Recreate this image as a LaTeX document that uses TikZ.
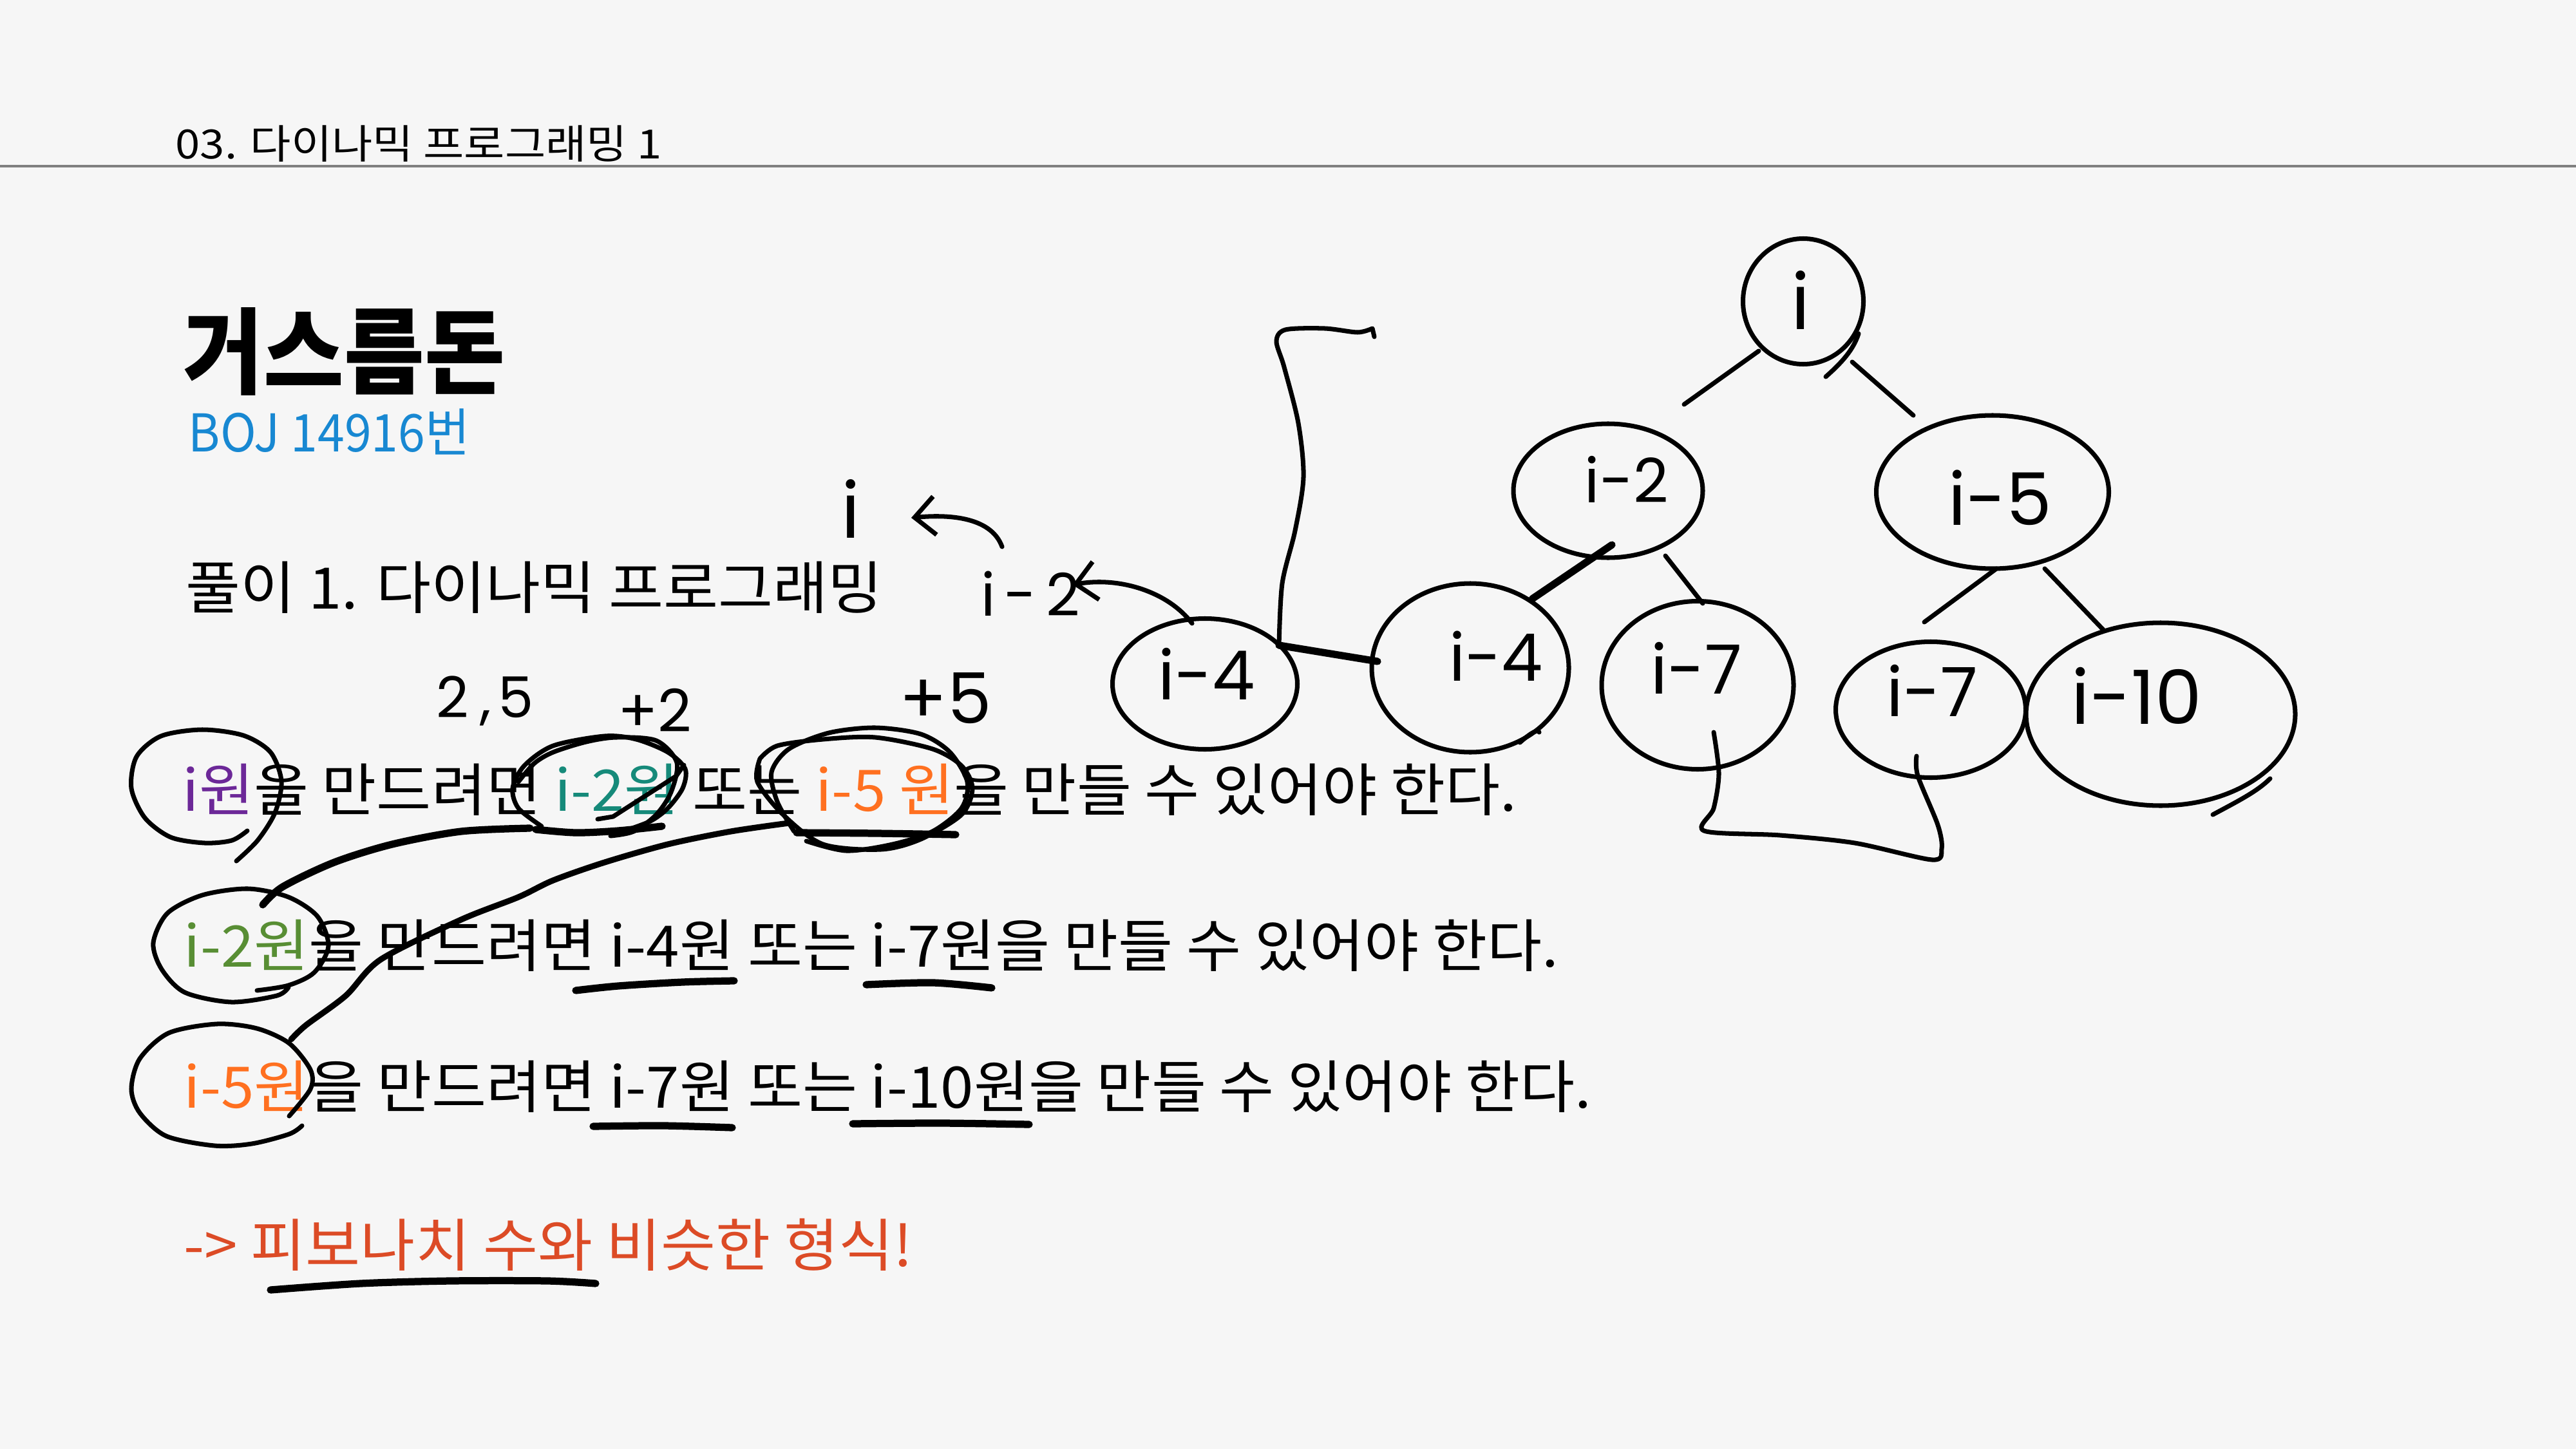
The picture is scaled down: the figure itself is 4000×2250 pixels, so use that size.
\documentclass[tikz,border=0pt]{standalone}
\usepackage{fontspec}
\usetikzlibrary{calc,shapes.geometric,arrows.meta}
\newfontfamily\krbody[FakeStretch=1.04]{Noto Sans CJK KR}
\newfontfamily\krboj[FakeStretch=0.93]{Noto Sans CJK KR}
\newfontfamily\krhead[FakeStretch=1.1]{Noto Sans CJK KR}
\newfontfamily\krtitle[FakeStretch=0.93]{Noto Sans CJK KR}
\newfontfamily\handfont{Poppins}
\definecolor{bgc}{RGB}{246,246,246}
\definecolor{lineG}{RGB}{128,128,128}
\definecolor{purpleT}{RGB}{108,40,152}
\definecolor{tealT}{RGB}{22,138,122}
\definecolor{orangeT}{RGB}{255,112,32}
\definecolor{oliveT}{RGB}{88,142,52}
\definecolor{blueT}{RGB}{24,136,210}
\definecolor{redT}{RGB}{220,75,38}
\begin{document}
\begin{tikzpicture}[x=0.1mm,y=-0.1mm,
  hand/.style={line width=2pt,line cap=round,line join=round},
  handthick/.style={hand,line width=3.2pt},
  tnode/.style={draw,ellipse,line width=2pt,inner sep=0pt},
  txt/.style={anchor=base west,inner sep=0pt},
  body/.style={txt,font=\krbody\fontsize{25.3}{28}\selectfont},
  hl/.style={inner sep=0pt,font=\handfont\fontsize{#1}{#1}\selectfont},
  barb/.style={-{Straight Barb[length=9pt,width=17pt,line width=2pt]}}
  ]
\fill[bgc] (0,0) rectangle (4000,2250);
\useasboundingbox (0,0) rectangle (4000,2250);

% header
\node[txt,font=\krhead\fontsize{17.8}{20}\selectfont] (hdr) at (272,247) {03. 다이나믹 프로그래밍 1};
\draw[line width=1.4pt,draw=lineG] (0,258) -- (4000,258);

% titles
\node[txt,font=\krtitle\bfseries\fontsize{41.5}{44}\selectfont] (title) at (284,600) {거스름돈};
\node[txt,font=\krboj\fontsize{23}{26}\selectfont,text=blueT] (boj) at (292,701) {BOJ 14916번};
\node[body] (sol) at (288,945) {풀이 1. 다이나믹 프로그래밍};

% body lines
\node[body] (l1) at (283,1259) {\textcolor{purpleT}{i원}을 만드려면 \textcolor{tealT}{i-2원} 또는 \textcolor{orangeT}{i-5 원}을 만들 수 있어야 한다.};
\node[body] (l2) at (285,1501) {\textcolor{oliveT}{i-2원}을 만드려면 i-4원 또는 i-7원을 만들 수 있어야 한다.};
\node[body] (l3) at (285,1720) {\textcolor{orangeT}{i-5원}을 만드려면 i-7원 또는 i-10원을 만들 수 있어야 한다.};
\node[body,text=redT] (l4) at (285,1966) {-> 피보나치 수와 비슷한 형식!};

% handwritten small labels
\node[hl=25] (h25) at (753,1088) {2\kern5pt,\kern3pt5};
\node[hl=26] (hp2) at (1017,1103) {+2};
\node[hl=31] (hp5) at (1468,1084) {+5};
\node[hl=34] (ilbl) at (1321,790) {i};
\node[hl=26] (i2lbl) at (1600,922) {i\kern4pt-\kern4pt2};

% annotation loops on text
\draw[hand] plot[smooth] coordinates {(384,1290) (360,1305) (318,1309) (265,1300) (225,1270) (204,1224) (212,1175) (250,1143) (314,1133) (378,1142) (420,1168) (437,1213) (427,1262) (400,1305) (367,1337)};
\draw[hand] plot[smooth] coordinates {(841,1283) (805,1255) (796,1224) (814,1189) (859,1158) (939,1143) (988,1148) (1037,1168) (1064,1194) (1060,1224) (1037,1255) (1010,1275) (970,1290)};
\draw[hand] plot[smooth] coordinates {(805,1214) (830,1185) (859,1168) (910,1152) (957,1145) (1019,1150) (1051,1184) (1042,1230) (1019,1265) (984,1291) (948,1298)};
\draw[hand] (928,1272) -- (952,1268) -- (1050,1205) -- (1062,1188);
\draw[handthick] plot[smooth] coordinates {(832,1288) (894,1293) (960,1290) (1028,1283)};
\draw[hand] plot[smooth] coordinates {(1233,1291) (1207,1245) (1198,1199) (1225,1163) (1287,1138) (1359,1130) (1430,1140) (1475,1168) (1502,1214) (1493,1255) (1448,1291) (1386,1311) (1314,1321) (1252,1306)};
\draw[hand] plot[smooth] coordinates {(1180,1178) (1207,1158) (1278,1148) (1359,1145) (1448,1163) (1493,1189) (1510,1224) (1493,1265) (1430,1303) (1368,1319) (1278,1311) (1216,1265) (1176,1214) (1180,1178)};
\draw[handthick] plot[smooth] coordinates {(1237,1293) (1360,1294) (1484,1296)};
\draw[hand] plot[smooth] coordinates {(399,1538) (448,1530) (488,1510) (510,1469) (493,1423) (448,1393) (385,1380) (314,1390) (260,1418) (238,1464) (251,1505) (287,1541) (359,1556) (430,1546) (448,1533)};
\draw[hand] plot[smooth] coordinates {(469,1748) (449,1761) (391,1776) (333,1779) (258,1764) (217,1728) (204,1691) (217,1644) (262,1604) (337,1590) (399,1597) (449,1620) (482,1661) (482,1691) (449,1733)};
% connectors between circled terms
\draw[handthick] plot[smooth] coordinates {(823,1286) (716,1291) (609,1311) (519,1339) (439,1377) (408,1405)};
\draw[hand,line width=2.6pt] plot[smooth] coordinates {(1225,1278) (1135,1291) (1037,1311) (939,1339) (859,1367) (805,1393) (716,1428) (591,1490) (537,1546) (475,1592) (452,1614)};
% underlines
\draw[handthick] plot[smooth] coordinates {(894,1538) (960,1531) (1060,1525) (1140,1523)};
\draw[handthick] plot[smooth] coordinates {(1345,1529) (1449,1526) (1540,1534)};
\draw[handthick] plot[smooth] coordinates {(921,1749) (1030,1748) (1137,1751)};
\draw[handthick] plot[smooth] coordinates {(1324,1745) (1460,1744) (1598,1746)};
\draw[handthick] plot[smooth] coordinates {(420,2003) (560,1993) (700,1989) (850,1989) (925,1993)};

% tree nodes
\node[tnode,minimum width=18.7mm,minimum height=19.5mm] (root) at (2800,468) {};
\node[tnode,minimum width=29.4mm,minimum height=20.8mm] (n2) at (2497,762) {};
\node[tnode,minimum width=36.1mm,minimum height=23.8mm] (n5) at (3094,764) {};
\node[tnode,minimum width=30.6mm,minimum height=26.2mm] (n4) at (2283,1037) {};
\node[tnode,minimum width=29.8mm,minimum height=26.1mm] (n7a) at (2636,1064) {};
\node[tnode,minimum width=29.5mm,minimum height=21.1mm] (n7b) at (2998,1102) {};
\node[tnode,minimum width=41.8mm,minimum height=28.4mm] (n10) at (3355,1109) {};
\node[tnode,minimum width=28.7mm,minimum height=20.3mm] (s4) at (1871,1062) {};

% hand-drawn overshoot tails of the node outlines
\draw[hand] ($(root)+(35,117)$) .. controls ($(root)+(60,95)$) and ($(root)+(78,75)$) .. ($(root)+(86,50)$);
\draw[hand] ($(n10)+(81,156)$) .. controls ($(n10)+(120,135)$) and ($(n10)+(150,120)$) .. ($(n10)+(170,100)$);
\draw[hand] ($(n4)+(77,116)$) .. controls ($(n4)+(95,100)$) and ($(n4)+(105,95)$) .. ($(n4)+(107,100)$);

\node[hl=34] (rootl) at (2796,466) {i};
\node[hl=27] (n2l) at (2526,744) {i-2};
\node[hl=32] (n5l) at (3106,773) {i-5};
\node[hl=29] (n4l) at (2323,1019) {i-4};
\node[hl=30] (n7al) at (2634,1037) {i-7};
\node[hl=30] (n7bl) at (3000,1072) {i-7};
\node[hl=33] (n10l) at (3318,1080) {i-10};
\node[hl=30] (s4l) at (1874,1046) {i-4};

% tree edges
\draw[hand] ($(root)+(-69,77)$) -- ($(n2)+(118,-134)$);
\draw[hand] ($(root)+(76,94)$) -- ($(n5)+(-123,-119)$);
\draw[handthick] ($(n2)+(6,84)$) -- ($(n4)+(96,-107)$);
\draw[hand] ($(n2)+(89,101)$) -- ($(n7a)+(8,-127)$);
\draw[hand] ($(n5)+(6,119)$) -- ($(n7b)+(-10,-136)$);
\draw[hand] ($(n5)+(81,119)$) -- ($(n10)+(-89,-131)$);

% i-4 bracket
\coordinate (jn) at ($(s4)+(115,-60)$);
\coordinate (brk) at (2134,523);
\draw[handthick] ($(n4)+(-144,-10)$) -- (jn);
\draw[hand] plot[smooth,tension=0.5] coordinates {(jn) (1991,906) (2011,824) (2024,741) (2016,657) (1994,570) (1982,530) (1996,512) (2057,510) (2108,516) (2131,510)} -- (brk);

% U link between the two i-7 nodes
\coordinate (ua) at ($(n7a)+(25,73)$);
\coordinate (ub) at ($(n7b)+(-22,72)$);
\draw[hand] plot[smooth,tension=0.5] coordinates {(ua) (2669,1201) (2661,1255) (2646,1290) (2764,1297) (2880,1309) (3000,1335) (3015,1318) (3009,1281) (2978,1205) (ub)};

% arrows
\draw[hand,barb] ($(s4)+(-20,-94)$) .. controls (1815,920) and (1740,895) .. ($(i2lbl.east)+(-12,-14)$);
\draw[hand,barb] ($(i2lbl)+(-44,-73)$) .. controls (1540,805) and (1480,798) .. ($(ilbl)+(94,14)$);
\end{tikzpicture}
\end{document}
